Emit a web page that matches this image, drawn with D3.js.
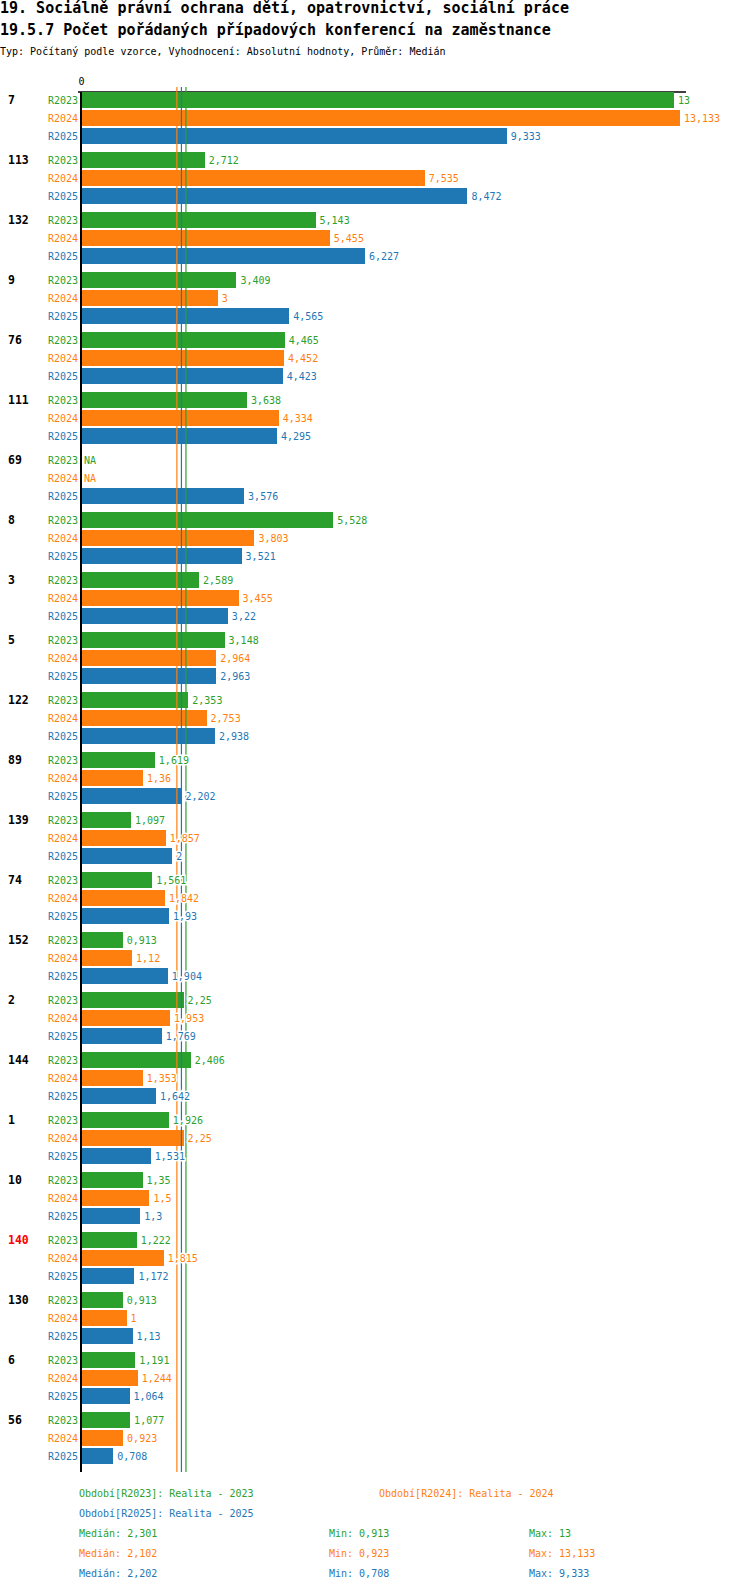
<!DOCTYPE html>
<html>
<head>
<meta charset="utf-8">
<script src="https://cdn.jsdelivr.net/npm/d3@7"></script>
<style>
  body { margin: 0; background: #fff; }
  text { font-family: "DejaVu Sans Mono", monospace; }
</style>
</head>
<body>
<script>
// data
var groups = ["7","113","132","9","76","111","69","8","3","5","122","89","139","74","152","2","144","1","10","140","130","6","56"];
var r2023 = [13,2.712,5.143,3.409,4.465,3.638,null,5.528,2.589,3.148,2.353,1.619,1.097,1.561,0.913,2.25,2.406,1.926,1.35,1.222,0.913,1.191,1.077];
var r2024 = [13.133,7.535,5.455,3,4.452,4.334,null,3.803,3.455,2.964,2.753,1.36,1.857,1.842,1.12,1.953,1.353,2.25,1.5,1.815,1,1.244,0.923];
var r2025 = [9.333,8.472,6.227,4.565,4.423,4.295,3.576,3.521,3.22,2.963,2.938,2.202,2,1.93,1.904,1.769,1.642,1.531,1.3,1.172,1.13,1.064,0.708];
var seriesNames = ["R2023","R2024","R2025"];
var seriesColors = ["#2ca02c","#ff7f0e","#1f77b4"];
var legendLabels = ["Období[R2023]: Realita - 2023","Období[R2024]: Realita - 2024","Období[R2025]: Realita - 2025"];
var medians = [2.301,2.102,2.202];
var mins = [0.913,0.923,0.708];
var maxs = [13,13.133,9.333];
var highlighted = ["140"];

var width = 750, height = 1592;
var plotLeft = 81, plotTop = 92, groupStep = 60;
var plotBottom = plotTop + groups.length * groupStep;

var series = [r2023, r2024, r2025];
var fmt = function(v){ return String(+v.toFixed(3)).replace(".", ","); };

var svg = d3.select("body").append("svg")
  .attr("width", width)
  .attr("height", height);

// titles
svg.append("text").attr("x", 0).attr("y", 13)
  .style("font-size", "15px").style("font-weight", "bold")
  .text("19. Sociálně právní ochrana dětí, opatrovnictví, sociální práce");
svg.append("text").attr("x", 0).attr("y", 35)
  .style("font-size", "15px").style("font-weight", "bold")
  .text("19.5.7 Počet pořádaných případových konferencí na zaměstnance");
svg.append("text").attr("x", 0).attr("y", 55)
  .style("font-size", "10px")
  .text("Typ: Počítaný podle vzorce, Vyhodnocení: Absolutní hodnoty, Průměr: Medián");

var allMax = d3.max(series, function(s){ return d3.max(s); });
var x = d3.scaleLinear().domain([0, allMax * 1.01]).range([plotLeft, 686]);

var y0 = d3.scaleBand().domain(groups).range([plotTop, plotBottom]);
var y1 = d3.scaleBand().domain(seriesNames).range([0, 52]).paddingInner(2 / 18);

// top axis (only zero tick)
var axis = svg.append("g").attr("transform", "translate(0," + plotTop + ")")
  .call(d3.axisTop(x).tickValues([0]).tickSize(0).tickFormat(d3.format("d")));
axis.select(".domain").attr("stroke", "#000").attr("stroke-width", 1.5)
  .attr("d", "M78,0H686");
axis.selectAll("text").attr("dy", "-4px").attr("fill", "#000")
  .style("font-size", "10px").style("font-family", "DejaVu Sans Mono, monospace");

var g = svg.append("g");

groups.forEach(function(grp, i){
  var gy = y0(grp);
  g.append("text").attr("x", 8).attr("y", gy + y1("R2023") + y1.bandwidth() / 2 + 4)
    .style("font-size", "11.5px").style("font-weight", "bold")
    .attr("fill", highlighted.indexOf(grp) >= 0 ? "#ff0000" : "#000")
    .text(grp);
  seriesNames.forEach(function(sn, j){
    var v = series[j][i];
    var by = gy + y1(sn);
    g.append("text").attr("x", 78).attr("y", by + y1.bandwidth() / 2 + 3.5)
      .attr("text-anchor", "end").attr("fill", seriesColors[j])
      .style("font-size", "10px").text(sn);
    if (v != null) {
      g.append("rect").attr("x", x(0)).attr("y", by)
        .attr("width", x(v) - x(0)).attr("height", y1.bandwidth())
        .attr("fill", seriesColors[j]).attr("shape-rendering", "crispEdges");
    }
  });
});

// median lines
medians.forEach(function(m, j){
  svg.append("line").attr("x1", x(m)).attr("x2", x(m))
    .attr("y1", 87).attr("y2", plotBottom)
    .attr("stroke", seriesColors[j]).attr("stroke-width", 1.2);
});

// value labels over the lines with a white halo
groups.forEach(function(grp, i){
  seriesNames.forEach(function(sn, j){
    var v = series[j][i];
    var by = y0(grp) + y1(sn);
    svg.append("text")
      .attr("x", v == null ? x(0) + 3 : x(v) + 4)
      .attr("y", by + y1.bandwidth() / 2 + 3.5)
      .attr("fill", seriesColors[j])
      .attr("stroke", "#fff").attr("stroke-width", 3).attr("paint-order", "stroke")
      .style("font-size", "10px")
      .text(v == null ? "NA" : fmt(v));
  });
});

// vertical zero axis
svg.append("line").attr("x1", x(0)).attr("x2", x(0))
  .attr("y1", plotTop).attr("y2", plotBottom)
  .attr("stroke", "#000").attr("stroke-width", 2);

// legend
var legendPos = [[79, 1497], [379, 1497], [79, 1517]];
legendLabels.forEach(function(l, j){
  svg.append("text").attr("x", legendPos[j][0]).attr("y", legendPos[j][1])
    .attr("fill", seriesColors[j]).style("font-size", "10px").text(l);
});
seriesNames.forEach(function(sn, j){
  var ly = 1537 + j * 20;
  svg.append("text").attr("x", 79).attr("y", ly).attr("fill", seriesColors[j])
    .style("font-size", "10px").text("Medián: " + fmt(medians[j]));
  svg.append("text").attr("x", 329).attr("y", ly).attr("fill", seriesColors[j])
    .style("font-size", "10px").text("Min: " + fmt(mins[j]));
  svg.append("text").attr("x", 529).attr("y", ly).attr("fill", seriesColors[j])
    .style("font-size", "10px").text("Max: " + fmt(maxs[j]));
});
</script>
</body>
</html>
